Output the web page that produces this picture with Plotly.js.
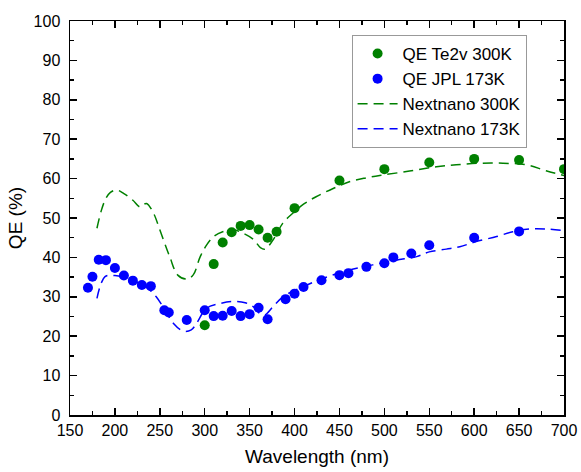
<!DOCTYPE html>
<html><head><meta charset="utf-8">
<script src="https://cdn.plot.ly/plotly-3.0.1.min.js"></script>
<style>html,body{margin:0;padding:0;background:#fff}#chart{width:581px;height:472px}</style>
</head><body><div id="chart"></div>
<script>
const te2vWl = [300,310,320,330,340,350,360,370,380,400,450,500,550,600,650,700];
const te2vQE = [22.8,38.3,43.8,46.4,48.0,48.2,47.1,45.0,46.5,52.5,59.5,62.4,64.1,65.0,64.7,62.4];
const jplWl = [170,175,182,190,200,210,220,230,240,255,260,280,300,310,320,330,340,350,360,370,390,400,410,430,450,460,480,500,510,530,550,600,650];
const jplQE = [32.3,35.1,39.4,39.3,37.3,35.4,34.1,33.0,32.7,26.6,26.0,24.1,26.6,25.1,25.2,26.4,25.1,25.6,27.2,24.3,29.4,30.8,32.5,34.2,35.5,36.0,37.6,38.5,40.0,41.0,43.1,45.0,46.6];
const nn300Wl = [180,185,190,195,202,210,220,228,235,243,250,261,270,280,287,295,302,310,320,332,343,354,362,367,376,387,398,410,424,443,461,480,498,528,558,580,606,632,658,680,700];
const nn300QE = [47.4,52,55,56.5,57.1,56.2,54.5,52.8,53.7,51.2,47,40.2,35.5,34.5,35.5,40.2,43.1,45.3,46.5,47,46.1,44.6,42.5,42.1,44.4,48.7,51.2,53.5,55.4,57.5,59.2,60.2,60.9,61.9,63.0,63.5,63.9,63.9,63.5,62.0,60.8];
const nn173Wl = [180,189,200,213,228,239,246,256,265,276,285,291,302,317,330,345,354,361,367,376,387,406,432,461,487,513,536,550,569,584,602,625,643,662,680,699];
const nn173QE = [29.6,35.1,35.4,34.7,33.4,31.7,30.0,26.6,23.3,21.3,21.6,23.3,27.1,28.3,28.8,28.5,27.5,25.8,25.4,27.5,30.0,32.2,34.7,36.8,38.1,39.3,40.2,41.4,42.1,42.7,44.0,45.3,46.5,47.2,47.2,46.8];
const xTicks = [150,200,250,300,350,400,450,500,550,600,650,700];
const yTicks = [0,10,20,30,40,50,60,70,80,90,100];

const green = '#008000', blue = '#0000ff';
const traces = [
  {x: te2vWl, y: te2vQE, type:'scatter', mode:'markers', name:'QE Te2v 300K', marker:{color:green, size:10}},
  {x: jplWl, y: jplQE, type:'scatter', mode:'markers', name:'QE JPL 173K', marker:{color:blue, size:10}},
  {x: nn300Wl, y: nn300QE, type:'scatter', mode:'lines', name:'Nextnano 300K', line:{color:green, width:1.5, dash:'10px,6px', shape:'spline'}},
  {x: nn173Wl, y: nn173QE, type:'scatter', mode:'lines', name:'Nextnano 173K', line:{color:blue, width:1.5, dash:'10px,6px', shape:'spline'}}
];
const axisCommon = {
  showgrid:false, zeroline:false, showline:true, linecolor:'#000', linewidth:1.5,
  mirror:'allticks', ticks:'inside', ticklen:7, tickwidth:1.5, tickcolor:'#000',
  tickfont:{size:16, color:'#000'}
};
const layout = {
  width:581, height:472,
  margin:{l:70, r:17, t:21, b:57},
  paper_bgcolor:'#fff', plot_bgcolor:'#fff',
  font:{family:'"Liberation Sans", Arial, sans-serif', color:'#000'},
  showlegend:true,
  legend:{x:0.570, y:0.9645, xanchor:'left', yanchor:'top', bordercolor:'#999', borderwidth:1, bgcolor:'#fff',
          font:{size:17}, tracegroupgap:0, itemwidth:40},
  xaxis: Object.assign({}, axisCommon, {range:[150,700], tickvals:xTicks, ticktext:xTicks.map(String),
          minor:{dtick:25, tick0:150, ticks:'inside', ticklen:4, tickwidth:1.5, tickcolor:'#000'},
          title:{text:'Wavelength (nm)', font:{size:19}, standoff:12}}),
  yaxis: Object.assign({}, axisCommon, {range:[0,100], tickvals:yTicks, ticktext:yTicks.map(String),
          ticklabelstandoff:5,
          minor:{dtick:5, tick0:0, ticks:'inside', ticklen:4, tickwidth:1.5, tickcolor:'#000'},
          title:{text:'QE (%)', font:{size:19}, standoff:6}})
};
Plotly.newPlot('chart', traces, layout, {displayModeBar:false, staticPlot:true});
</script></body></html>
